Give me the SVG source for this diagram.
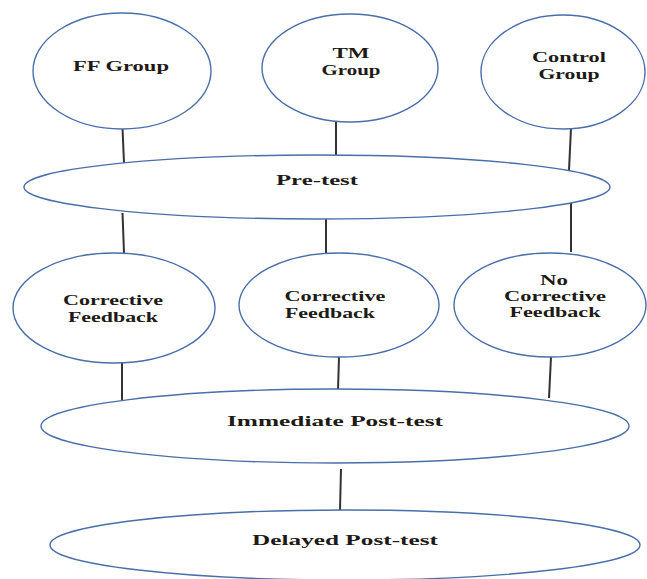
<svg xmlns="http://www.w3.org/2000/svg" width="647" height="579" viewBox="0 0 647 579">
<style>
.n{fill:#fff;stroke:#4a6ea8;stroke-width:1.4}
.c line{stroke:#333;stroke-width:2}
text{font-family:"Liberation Serif","Times New Roman",serif;font-weight:bold;font-size:15px;fill:#1e1a16;text-anchor:middle}
</style>
<rect width="647" height="579" fill="#fff"/>
<g class="c" id="connectors">
<line x1="122.5" y1="128" x2="124" y2="163"/>
<line x1="336" y1="122" x2="336" y2="156"/>
<line x1="571" y1="128" x2="569" y2="170"/>
<line x1="122.5" y1="213" x2="124" y2="253"/>
<line x1="326" y1="219" x2="326" y2="254"/>
<line x1="571" y1="200" x2="571" y2="252"/>
<line x1="122" y1="362" x2="122" y2="403"/>
<line x1="339" y1="357" x2="338" y2="390"/>
<line x1="551" y1="357" x2="549" y2="398"/>
<line x1="341" y1="469" x2="340" y2="510"/>
</g>
<g id="ff"><ellipse class="n" cx="122" cy="71" rx="89" ry="58"/><text x="121" y="71" textLength="96" lengthAdjust="spacingAndGlyphs">FF Group</text></g>
<g id="tm"><ellipse class="n" cx="350" cy="68" rx="88" ry="54"/><text x="351" y="58" textLength="37" lengthAdjust="spacingAndGlyphs">TM</text><text x="351" y="75" textLength="59" lengthAdjust="spacingAndGlyphs">Group</text></g>
<g id="control"><ellipse class="n" cx="563" cy="72" rx="82" ry="57"/><text x="569" y="62" textLength="74" lengthAdjust="spacingAndGlyphs">Control</text><text x="569" y="79" textLength="61" lengthAdjust="spacingAndGlyphs">Group</text></g>
<g id="pretest"><ellipse class="n" cx="317" cy="187" rx="293" ry="32"/><text x="317" y="185" textLength="82" lengthAdjust="spacingAndGlyphs">Pre-test</text></g>
<g id="cf1"><ellipse class="n" cx="114" cy="308" rx="101" ry="55"/><text x="113" y="305" textLength="100" lengthAdjust="spacingAndGlyphs">Corrective</text><text x="113" y="322" textLength="90" lengthAdjust="spacingAndGlyphs">Feedback</text></g>
<g id="cf2"><ellipse class="n" cx="339" cy="305" rx="100" ry="52"/><text x="335" y="301" textLength="101" lengthAdjust="spacingAndGlyphs">Corrective</text><text x="330" y="318" textLength="90" lengthAdjust="spacingAndGlyphs">Feedback</text></g>
<g id="ncf"><ellipse class="n" cx="550" cy="305" rx="96" ry="52"/><text x="554" y="285" textLength="28" lengthAdjust="spacingAndGlyphs">No</text><text x="555" y="301" textLength="102" lengthAdjust="spacingAndGlyphs">Corrective</text><text x="555" y="317" textLength="91" lengthAdjust="spacingAndGlyphs">Feedback</text></g>
<g id="immediate"><ellipse class="n" cx="335" cy="426" rx="294" ry="37"/><text x="335" y="426" textLength="216" lengthAdjust="spacingAndGlyphs">Immediate Post-test</text></g>
<g id="delayed"><ellipse class="n" cx="345" cy="545" rx="295" ry="35"/><text x="345" y="545" textLength="186" lengthAdjust="spacingAndGlyphs">Delayed Post-test</text></g>
</svg>
